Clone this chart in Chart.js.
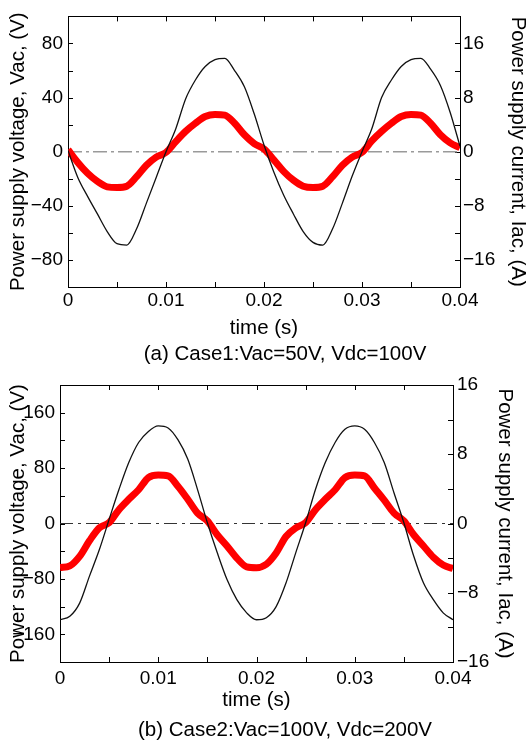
<!DOCTYPE html>
<html>
<head>
<meta charset="utf-8">
<script src="https://cdn.jsdelivr.net/npm/chart.js@4.4.1/dist/chart.umd.min.js"></script>
<style>
  body { margin: 0; background: #fff; width: 526px; height: 740px; position: relative; overflow: hidden; }
  canvas { position: absolute; left: 0; }
  .caption { position: absolute; left: 0; width: 570px; text-align: center; font: 20.5px 'Liberation Sans', Arial, sans-serif; line-height: 24px; color: #000; }
</style>
</head>
<body>
<canvas id="case1" width="526" height="342" style="top:0"></canvas>
<div class="caption" style="top:341px">(a) Case1:Vac=50V, Vdc=100V</div>
<canvas id="case2" width="526" height="360" style="top:360px"></canvas>
<div class="caption" style="top:717px">(b) Case2:Vac=100V, Vdc=200V</div>
<script>
// time axis (s)
const time = [0, 0.001, 0.002, 0.003, 0.004, 0.005, 0.006, 0.007, 0.008, 0.009,
  0.010, 0.011, 0.012, 0.013, 0.014, 0.015, 0.016, 0.017, 0.018, 0.019,
  0.020, 0.021, 0.022, 0.023, 0.024, 0.025, 0.026, 0.027, 0.028, 0.029,
  0.030, 0.031, 0.032, 0.033, 0.034, 0.035, 0.036, 0.037, 0.038, 0.039, 0.040];

// case 1: Vac=50V, Vdc=100V
const vac1 = [1, -19, -33, -46, -59, -68, -69, -57, -38, -19,
  0, 17, 39, 53, 63, 68, 69, 60, 48, 28,
  5, -15, -32, -46, -59, -67, -69, -57, -38, -18,
  0, 17, 40, 53, 63, 68, 69, 61, 49, 29, 4];
const iac1 = [0.3, -1.6, -3.2, -4.4, -5.2, -5.3, -5.1, -3.7, -2.0, -0.8,
  -0.1, 1.5, 3.0, 4.2, 5.2, 5.5, 5.4, 4.2, 2.5, 1.2,
  0.4, -1.2, -2.9, -4.2, -5.1, -5.3, -5.1, -3.7, -2.0, -0.8,
  -0.1, 1.6, 3.0, 4.2, 5.2, 5.5, 5.4, 4.2, 2.5, 1.3, 0.6];

// case 2: Vac=100V, Vdc=200V
const vac2 = [-139, -134, -115, -76, -38, 6, 49, 88, 117, 133,
  141, 138, 121, 93, 49, 1, -42, -81, -110, -129,
  -139, -136, -120, -86, -42, 1, 49, 88, 117, 136,
  141, 136, 117, 88, 44, 1, -47, -86, -110, -129, -139];
const iac2 = [-5.1, -4.9, -3.8, -2.0, -0.5, 0.1, 1.6, 2.8, 3.9, 5.3,
  5.6, 5.5, 4.3, 2.8, 1.2, 0.3, -1.3, -2.6, -4.0, -5.0,
  -5.1, -4.7, -3.4, -1.5, -0.5, 0.1, 1.6, 2.8, 3.9, 5.3,
  5.6, 5.5, 4.1, 2.7, 1.2, 0.3, -1.3, -2.6, -3.9, -4.8, -5.2];

// zero reference line
const zeroTime = [0, 0.04];
const zeroLevel = [0, 0];

Chart.defaults.font.family = "'Liberation Sans', Arial, sans-serif";
Chart.defaults.color = '#000';

const minus = v => String(v).replace('-', '\u2212');
const pts = (xs, ys) => xs.map((x, i) => ({ x: x, y: ys[i] }));

// tick marks pointing into the plot, taken from each scale's own ticks
const innerTicks = {
  id: 'innerTicks',
  beforeDatasetsDraw(chart) {
    const { ctx, chartArea: a } = chart;
    const len = 5;
    ctx.save();
    ctx.strokeStyle = '#000';
    ctx.lineWidth = 1;
    Object.values(chart.scales).forEach(s => {
      s.ticks.forEach(t => {
        const p = Math.round(s.getPixelForValue(t.value)) + 0.5;
        ctx.beginPath();
        if (s.position === 'left') { ctx.moveTo(a.left, p); ctx.lineTo(a.left + len, p); }
        if (s.position === 'right') { ctx.moveTo(a.right, p); ctx.lineTo(a.right - len, p); }
        if (s.position === 'bottom') { ctx.moveTo(p, a.bottom); ctx.lineTo(p, a.bottom - len); }
        if (s.position === 'top') { ctx.moveTo(p, a.top); ctx.lineTo(p, a.top + len); }
        ctx.stroke();
      });
    });
    ctx.restore();
  }
};

function drawCase(id, vac, iac, opt) {
  const tickFont = { size: 19 };
  const titleFont = { size: 20.5 };
  const grid = { display: true, drawOnChartArea: false, drawTicks: false, color: '#000' };
  const border = { display: true, color: '#000', width: 1 };

  new Chart(document.getElementById(id), {
    type: 'line',
    data: {
      datasets: [
        {
          data: pts(zeroTime, zeroLevel), yAxisID: 'y',
          borderColor: opt.zeroColor, borderWidth: opt.zeroWidth, borderDash: opt.zeroDash,
          pointRadius: 0, order: 3
        },
        {
          data: pts(time, iac), yAxisID: 'y1',
          borderColor: '#ff0000', borderWidth: 7, cubicInterpolationMode: 'monotone',
          pointRadius: 0, order: 2
        },
        {
          data: pts(time, vac), yAxisID: 'y',
          borderColor: '#111', borderWidth: 1.3, cubicInterpolationMode: 'monotone',
          pointRadius: 0, order: 1
        }
      ]
    },
    options: {
      responsive: false,
      animation: false,
      layout: { padding: 0 },
      plugins: { legend: { display: false }, tooltip: { enabled: false } },
      scales: {
        x: {
          type: 'linear', position: 'bottom', min: 0, max: 0.04,
          grid: grid, border: border,
          ticks: {
            stepSize: 0.005, padding: opt.xPad, font: tickFont, maxRotation: 0, autoSkip: false,
            callback: v => {
              const k = Math.round(v * 1000);
              if (k % 10 !== 0) return '';
              return k === 0 ? '0' : (k / 1000).toFixed(2);
            }
          },
          title: { display: true, text: 'time (s)', font: titleFont, padding: { top: 0, bottom: opt.xTitlePad } },
          afterFit: s => { s.height = opt.bottom; }
        },
        xTop: {
          type: 'linear', position: 'top', min: 0, max: 0.04,
          grid: grid, border: border,
          ticks: { stepSize: 0.005, autoSkip: false, callback: () => '' },
          afterFit: s => { s.height = opt.top; }
        },
        y: {
          type: 'linear', position: 'left', min: -opt.vMax, max: opt.vMax,
          grid: grid, border: border,
          ticks: {
            stepSize: opt.vStep, padding: 5, font: tickFont, autoSkip: false,
            callback: v => v % opt.vLabel === 0 ? minus(v) : ''
          },
          title: { display: true, text: 'Power supply voltage, Vac, (V)', font: titleFont, padding: { top: 6, bottom: 0 } },
          afterFit: s => { s.width = opt.left; }
        },
        y1: {
          type: 'linear', position: 'right', min: -opt.iMax, max: opt.iMax,
          grid: grid, border: border,
          ticks: {
            stepSize: 4, padding: opt.rPad, font: tickFont, autoSkip: false,
            callback: v => v % 8 === 0 ? minus(v) : ''
          },
          title: { display: true, text: 'Power supply current, Iac, (A)', font: titleFont, padding: { top: opt.rTitlePad, bottom: 0 } },
          afterFit: s => { s.width = opt.right; }
        }
      }
    },
    plugins: [innerTicks]
  });
}

drawCase('case1', vac1, iac1, {
  vMax: 100, vStep: 20, vLabel: 40, iMax: 20,
  left: 68, right: 66, top: 10, bottom: 55,
  xPad: 2, xTitlePad: 1, rPad: 3, rTitlePad: -4,
  zeroColor: '#9a9a9a', zeroWidth: 1.6, zeroDash: [14, 4, 3, 4]
});

drawCase('case2', vac2, iac2, {
  vMax: 200, vStep: 40, vLabel: 80, iMax: 16,
  left: 60, right: 73, top: 25, bottom: 58,
  xPad: 5, xTitlePad: 7, rPad: 4, rTitlePad: 9,
  zeroColor: '#333', zeroWidth: 1.2, zeroDash: [13, 5, 3, 5]
});
</script>
</body>
</html>
